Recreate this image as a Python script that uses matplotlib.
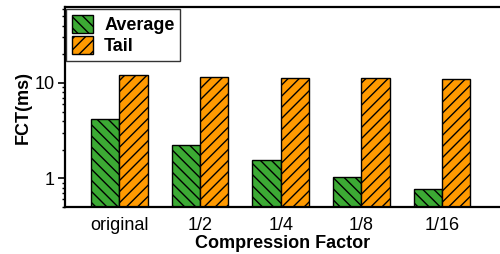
import matplotlib
matplotlib.use("Agg")
import matplotlib.pyplot as plt
import numpy as np
from matplotlib.ticker import LogLocator, NullFormatter, FixedLocator, FixedFormatter

categories = ["original", "1/2", "1/4", "1/8", "1/16"]
average = [4.2, 2.23, 1.54, 1.04, 0.775]
tail = [12.0, 11.6, 11.4, 11.2, 10.9]

plt.rcParams['font.family'] = ['Liberation Sans', 'DejaVu Sans']
plt.rcParams['hatch.linewidth'] = 1.0

fig = plt.figure(figsize=(5.0, 2.54), dpi=100)
ax = fig.add_axes([0.129, 0.185, 0.871, 0.786])

x = np.arange(len(categories))
w = 0.35
green = '#3caa34'
orange = '#ff9a00'
ax.bar(x - w/2, average, w, color=green, edgecolor='black', linewidth=1.0,
       hatch='\\\\\\', label='Average')
ax.bar(x + w/2, tail, w, color=orange, edgecolor='black', linewidth=1.0,
       hatch='///', label='Tail')

ax.set_yscale('log')
ax.set_ylim(0.5, 62)
ax.set_xlim(-0.68, 4.72)

ax.yaxis.set_major_locator(FixedLocator([1, 10]))
ax.yaxis.set_major_formatter(FixedFormatter(['1', '10']))
ax.yaxis.set_minor_locator(LogLocator(base=10, subs=np.arange(2, 10)))
ax.yaxis.set_minor_formatter(NullFormatter())
ax.tick_params(axis='y', which='major', direction='out', length=5, width=1.2, labelsize=13, pad=2)
ax.tick_params(axis='y', which='minor', direction='out', length=2.5, width=1.0)

ax.set_xticks(x)
ax.set_xticklabels(categories)
ax.tick_params(axis='x', length=0, labelsize=13, pad=7)

for s in ['left', 'bottom', 'top']:
    ax.spines[s].set_linewidth(1.6)
ax.spines['right'].set_visible(False)

ax.set_ylabel('FCT(ms)', fontsize=13, fontweight='bold', labelpad=2)
ax.set_xlabel('Compression Factor', fontsize=13, fontweight='bold', labelpad=1)

leg = ax.legend(loc='upper left', frameon=True, fancybox=False, edgecolor='black',
                prop={'weight': 'bold', 'size': 13}, borderaxespad=0.1,
                handlelength=1.2, handleheight=1.2, handletextpad=0.6,
                labelspacing=0.1, borderpad=0.3)
leg.get_frame().set_linewidth(1.0)

fig.savefig('out.png', dpi=100)
